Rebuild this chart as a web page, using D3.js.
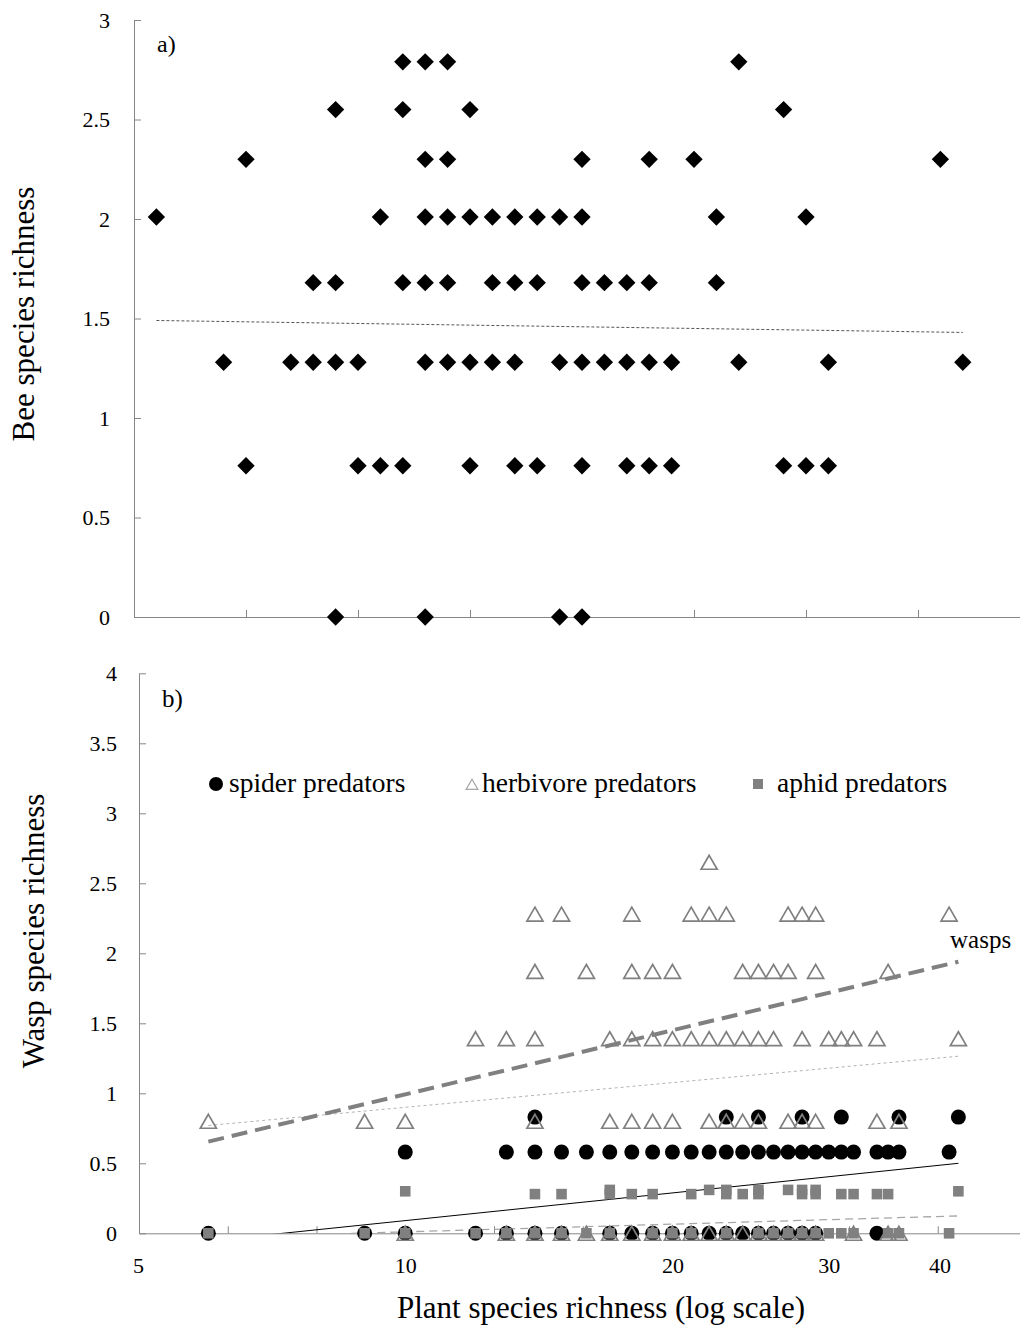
<!DOCTYPE html>
<html>
<head>
<meta charset="utf-8">
<script src="https://cdn.jsdelivr.net/npm/d3@7"></script>
<style>
  body { margin: 0; background: #fff; }
  svg { display: block; font-family: "Liberation Serif", "Times New Roman", serif; }
</style>
</head>
<body>
<div id="chart"></div>
<script>
// ---- panel a) bee species richness, one list of plant richness values per row
var beeValues = [2.79, 2.55, 2.30, 2.01, 1.68, 1.28, 0.76, 0];
var beePlants = [
    [17, 18, 19, 32],
    [14, 17, 20, 34],
    [10, 18, 19, 25, 28, 30, 41],
    [6, 16, 18, 19, 20, 21, 22, 23, 24, 25, 31, 35],
    [13, 14, 17, 18, 19, 21, 22, 23, 25, 26, 27, 28, 31],
    [9, 12, 13, 14, 15, 18, 19, 20, 21, 22, 24, 25, 26, 27, 28, 29, 32, 36, 42],
    [10, 15, 16, 17, 20, 22, 23, 25, 27, 28, 29, 34, 35, 36],
    [14, 18, 24, 25]
];
var beeTrend = [[6, 1.49], [42, 1.43]];
var beeXTicks = [10, 15, 20, 25, 30, 35, 40];
var beeYTicks = [0, 0.5, 1, 1.5, 2, 2.5, 3];

// ---- panel b) wasp species richness
var spiderValues = [0.83, 0.58, 0];
var spiderPlants = [
    [14, 23, 25, 28, 31, 36, 42],
    [10, 13, 14, 15, 16, 17, 18, 19, 20, 21, 22, 23, 24, 25, 26, 27, 28, 29, 30, 31, 32, 34, 35, 36, 41],
    [6, 9, 10, 12, 13, 14, 15, 17, 18, 19, 20, 21, 22, 23, 24, 25, 26, 27, 28, 29, 34]
];
var herbValues = [2.65, 2.28, 1.87, 1.39, 0.80, 0];
var herbPlants = [
    [22],
    [14, 15, 18, 21, 22, 23, 27, 28, 29, 41],
    [14, 16, 18, 19, 20, 24, 25, 26, 27, 29, 35],
    [12, 13, 14, 17, 18, 19, 20, 21, 22, 23, 24, 25, 26, 28, 30, 31, 32, 34, 42],
    [6, 9, 10, 14, 17, 18, 19, 20, 22, 23, 24, 25, 27, 28, 29, 34, 36],
    [10, 13, 14, 15, 16, 17, 18, 19, 20, 21, 22, 23, 24, 25, 26, 27, 28, 29, 32, 35, 36]
];
var aphidValues = [0.31, 0.30, 0.28, 0];
var aphidPlants = [
    [17, 22, 23, 25, 27, 28, 29],
    [10, 42],
    [14, 15, 17, 18, 19, 21, 23, 24, 25, 28, 29, 31, 32, 34, 35],
    [6, 9, 10, 12, 13, 14, 15, 16, 17, 19, 20, 21, 23, 25, 26, 27, 28, 29, 30, 31, 32, 35, 36, 41]
];
var waspTrend = [[6, 0.655], [42, 1.94]];
var herbTrend = [[6, 0.77], [42, 1.265]];
var spiderTrend = [[6, -0.055], [42, 0.50]];
var aphidTrend = [[6, -0.03], [42, 0.124]];
var waspXTickExps = [0.8, 0.9, 1.0, 1.1, 1.2, 1.3, 1.4, 1.5, 1.6];
var waspXLabels = [5, 10, 20, 30, 40];
var waspYTicks = [0, 0.5, 1, 1.5, 2, 2.5, 3, 3.5, 4];
var legendNames = ['spider predators', 'herbivore predators', 'aphid predators'];

function flatten(values, plants) {
    var out = [];
    values.forEach(function (v, i) {
        plants[i].forEach(function (p) { out.push({ x: p, y: v }); });
    });
    return out;
}

var width = 1020, height = 1327;
var axisColor = '#868686';
var svg = d3.select('#chart').append('svg').attr('width', width).attr('height', height);
svg.append('rect').attr('width', width).attr('height', height).attr('fill', '#fff');

function styleAxis(g, fs) {
    g.select('.domain').attr('stroke', axisColor);
    g.selectAll('.tick line').attr('stroke', axisColor);
    g.selectAll('.tick text').attr('fill', '#000').attr('font-size', fs + 'px')
        .attr('font-family', '"Liberation Serif", serif');
}

// ================= PANEL A =================
var xA = d3.scaleLinear().domain([5, 45]).range([134, 1030]);
var yA = d3.scaleLinear().domain([0, 3]).range([617, 20]);

var gA = svg.append('g');
gA.append('g').attr('transform', 'translate(0,617)')
    .call(d3.axisBottom(xA).tickValues(beeXTicks).tickSizeInner(-7).tickSizeOuter(0).tickFormat(''))
    .call(styleAxis, 22);
gA.append('g').attr('transform', 'translate(134,0)')
    .call(d3.axisLeft(yA).tickValues(beeYTicks).tickSizeInner(-7).tickSizeOuter(0).tickPadding(24).tickFormat(d3.format('')))
    .call(styleAxis, 22);

var lineA = d3.line().x(function (d) { return xA(d[0]); }).y(function (d) { return yA(d[1]); });
gA.append('path').attr('d', lineA(beeTrend)).attr('fill', 'none')
    .attr('stroke', '#555').attr('stroke-width', 1).attr('stroke-dasharray', '3,2');

var diamond = d3.symbol().type(d3.symbolSquare).size(150);
gA.selectAll('.bee').data(flatten(beeValues, beePlants)).enter().append('path')
    .attr('class', 'bee')
    .attr('d', diamond)
    .attr('transform', function (d) { return 'translate(' + xA(d.x) + ',' + yA(d.y) + ') rotate(45)'; })
    .attr('fill', '#000');

gA.append('text').attr('x', 157).attr('y', 52).attr('font-size', '24px').text('a)');
gA.append('text').attr('transform', 'translate(34,314) rotate(-90)')
    .attr('text-anchor', 'middle').attr('font-size', '31px').text('Bee species richness');

// ================= PANEL B =================
var xB = d3.scaleLog().domain([Math.pow(10, 0.7), Math.pow(10, 1.7)]).range([139, 1026.5]);
var yB = d3.scaleLinear().domain([0, 4]).range([1233.3, 673.3]);

var gB = svg.append('g');
gB.append('g').attr('transform', 'translate(0,1233.3)')
    .call(d3.axisBottom(xB).tickValues(waspXTickExps.map(function (e) { return Math.pow(10, e); }))
        .tickSizeInner(-7).tickSizeOuter(0).tickFormat(''))
    .call(styleAxis, 22);
var labelAxis = gB.append('g').attr('transform', 'translate(0,1233.3)')
    .call(d3.axisBottom(xB).tickValues(waspXLabels).tickSize(0).tickPadding(24).tickFormat(d3.format('d')))
    .call(styleAxis, 22);
labelAxis.select('.domain').remove();
gB.append('g').attr('transform', 'translate(139,0)')
    .call(d3.axisLeft(yB).tickValues(waspYTicks).tickSizeInner(-7).tickSizeOuter(0).tickPadding(22).tickFormat(d3.format('')))
    .call(styleAxis, 22);

svg.append('clipPath').attr('id', 'clipB').append('rect')
    .attr('x', 139).attr('y', 673).attr('width', 900).attr('height', 1233.3 - 673);

var lineB = d3.line().x(function (d) { return xB(d[0]); }).y(function (d) { return yB(d[1]); });
var trends = gB.append('g').attr('clip-path', 'url(#clipB)');
trends.append('path').attr('d', lineB(herbTrend)).attr('fill', 'none')
    .attr('stroke', '#b3b3b3').attr('stroke-width', 1).attr('stroke-dasharray', '3,3');
trends.append('path').attr('d', lineB(spiderTrend)).attr('fill', 'none')
    .attr('stroke', '#000').attr('stroke-width', 1);
trends.append('path').attr('d', lineB(aphidTrend)).attr('fill', 'none')
    .attr('stroke', '#a6a6a6').attr('stroke-width', 1.3).attr('stroke-dasharray', '8,5');

// markers: spider, herbivore, aphid in that order
gB.selectAll('.spider').data(flatten(spiderValues, spiderPlants)).enter().append('circle')
    .attr('class', 'spider')
    .attr('cx', function (d) { return xB(d.x); }).attr('cy', function (d) { return yB(d.y); })
    .attr('r', 7.5).attr('fill', '#000');

var tri = d3.symbol().type(d3.symbolTriangle).size(112);
gB.selectAll('.herb').data(flatten(herbValues, herbPlants)).enter().append('path')
    .attr('class', 'herb')
    .attr('d', tri)
    .attr('transform', function (d) { return 'translate(' + xB(d.x) + ',' + (yB(d.y) + 2.3) + ')'; })
    .attr('fill', 'none').attr('stroke', '#808080').attr('stroke-width', 1.7);

var sq = d3.symbol().type(d3.symbolSquare).size(112);
gB.selectAll('.aphid').data(flatten(aphidValues, aphidPlants)).enter().append('path')
    .attr('class', 'aphid')
    .attr('d', sq)
    .attr('transform', function (d) { return 'translate(' + xB(d.x) + ',' + yB(d.y) + ')'; })
    .attr('fill', '#808080');

// wasps overall trend on top
gB.append('path').attr('d', lineB(waspTrend)).attr('fill', 'none')
    .attr('stroke', '#808080').attr('stroke-width', 4).attr('stroke-dasharray', '16,8');
gB.append('text').attr('x', 950).attr('y', 948).attr('font-size', '25px').text('wasps');

// legend
var legY = 784;
var leg = gB.append('g');
leg.append('circle').attr('cx', 216).attr('cy', legY).attr('r', 7).attr('fill', '#000');
leg.append('text').attr('x', 229).attr('y', legY + 8).attr('font-size', '27.5px').text(legendNames[0]);
leg.append('path').attr('d', d3.symbol().type(d3.symbolTriangle).size(60))
    .attr('transform', 'translate(472,' + (legY + 2) + ')')
    .attr('fill', 'none').attr('stroke', '#a6a6a6').attr('stroke-width', 1.2);
leg.append('text').attr('x', 482).attr('y', legY + 8).attr('font-size', '27.5px').text(legendNames[1]);
leg.append('rect').attr('x', 753).attr('y', legY - 5).attr('width', 10).attr('height', 10).attr('fill', '#808080');
leg.append('text').attr('x', 777).attr('y', legY + 8).attr('font-size', '27.5px').text(legendNames[2]);

gB.append('text').attr('x', 162).attr('y', 707).attr('font-size', '25px').text('b)');
gB.append('text').attr('transform', 'translate(44,931) rotate(-90)')
    .attr('text-anchor', 'middle').attr('font-size', '31px').text('Wasp species richness');
gB.append('text').attr('x', 601).attr('y', 1318)
    .attr('text-anchor', 'middle').attr('font-size', '31px').text('Plant species richness (log scale)');
</script>
</body>
</html>
